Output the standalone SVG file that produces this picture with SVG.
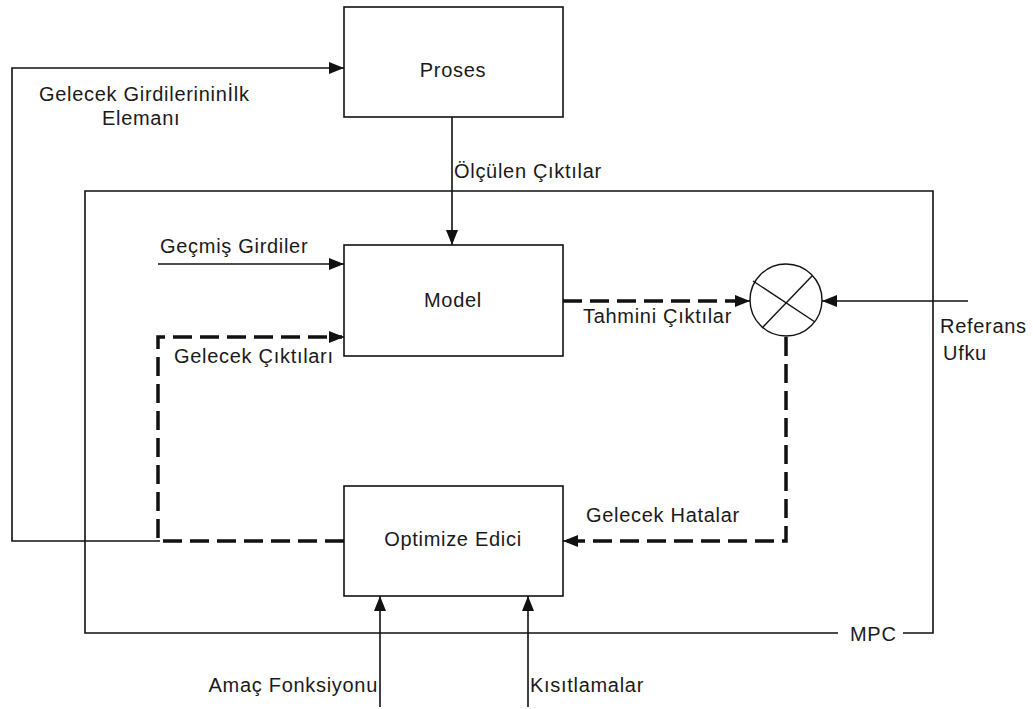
<svg xmlns="http://www.w3.org/2000/svg" width="1033" height="709" viewBox="0 0 1033 709">
<style>
.box{fill:none;stroke:#111;stroke-width:1.6}
.ln{fill:none;stroke:#111;stroke-width:1.6}
.ds{fill:none;stroke:#111;stroke-width:3.5;stroke-dasharray:19 8}
text{font-family:"Liberation Sans",Arial,sans-serif;font-size:20px;letter-spacing:0.7px;fill:#1a1a1a}
.c{text-anchor:middle}
.e{text-anchor:end}
</style>
<defs>
<marker id="ah" markerUnits="userSpaceOnUse" markerWidth="16" markerHeight="12" refX="15" refY="6" orient="auto">
<path d="M0,0 L15,6 L0,12 Z" fill="#111"/>
</marker>
</defs>
<rect width="1033" height="709" fill="#fff"/>
<g id="mpc">
<path class="ln" d="M838,633 H85 V191 H933 V633 H903"/>
<text x="850" y="641">MPC</text>
</g>
<g id="proses">
<rect class="box" x="344" y="7" width="219" height="110"/>
<text class="c" x="453" y="77">Proses</text>
</g>
<g id="model">
<rect class="box" x="344" y="245" width="219" height="111"/>
<text class="c" x="453" y="307">Model</text>
</g>
<g id="optimize">
<rect class="box" x="344" y="486" width="219" height="110"/>
<text class="c" x="453" y="546">Optimize Edici</text>
</g>
<g id="comparator">
<circle cx="786" cy="300" r="36" fill="none" stroke="#111" stroke-width="1.4"/>
<line x1="753" y1="281" x2="815" y2="322" stroke="#111" stroke-width="1.4"/>
<line x1="762" y1="328" x2="812" y2="276" stroke="#111" stroke-width="1.4"/>
</g>
<g id="connectors">
<path class="ln" d="M160,541 H12 V68 H344" marker-end="url(#ah)"/>
<path class="ln" d="M452,117 V245" marker-end="url(#ah)"/>
<path class="ln" d="M158,264 H344" marker-end="url(#ah)"/>
<path class="ds" d="M344,541 H158 V337 H342"/>
<path class="ln" d="M336,337 H344" marker-end="url(#ah)"/>
<path class="ds" d="M563,301 H744"/>
<path class="ln" d="M742,301 H750" marker-end="url(#ah)"/>
<path class="ln" d="M968,301 H822" marker-end="url(#ah)"/>
<path class="ds" d="M786,337 V541 H567"/>
<path class="ln" d="M572,541 H563" marker-end="url(#ah)"/>
<path class="ln" d="M380,707 V596" marker-end="url(#ah)"/>
<path class="ln" d="M528,707 V596" marker-end="url(#ah)"/>
</g>
<g id="labels">
<text x="39" y="101">Gelecek Girdilerininİlk</text>
<text x="102" y="125">Elemanı</text>
<text x="454" y="178">Ölçülen Çıktılar</text>
<text x="160" y="253">Geçmiş Girdiler</text>
<text x="174" y="363">Gelecek Çıktıları</text>
<text x="583" y="323">Tahmini Çıktılar</text>
<text x="940" y="333">Referans</text>
<text x="943" y="360">Ufku</text>
<text x="586" y="522">Gelecek Hatalar</text>
<text class="e" x="378" y="692">Amaç Fonksiyonu</text>
<text x="530" y="692">Kısıtlamalar</text>
</g>
</svg>
